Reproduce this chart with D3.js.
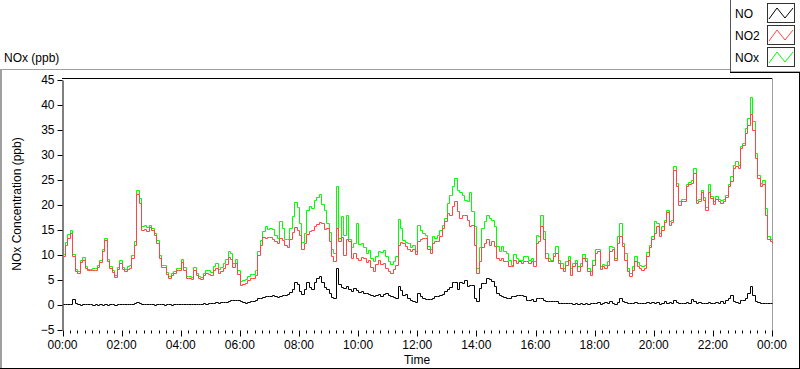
<!DOCTYPE html>
<html>

<head>
  <meta charset="UTF-8">
  <style>
      body {
        margin: 0;
        background: #fff;
      }
      svg {
        display: block;
        font-family: "Liberation Sans", Arial, sans-serif;
        font-size: 12px;
      }
  </style>
</head>

<body>
  <script src="https://d3js.org/d3.v7.min.js"></script>
  <script>
    // one sample every 5 minutes, 00:00 -> 24:00 (12 per hour + final point)
    var stepMinutes = 5;

    var no = [
      0.2, 0.3, 0.2, 0.2, 1.2, 0.4, 0.2, 0.1, 0.2, 0.3, 0.2, 0.2,
      0.1, 0.2, 0.1, 0.2, 0.1, 0.2, 0.1, 0.2, 0.2, 0.1, 0.2, 0.2,
      0.2, 0.3, 0.2, 0.2, 0.3, 0.4, 0.6, 0.5, 0.3, 0.2, 0.2, 0.2,
      0.2, 0.1, 0.2, 0.3, 0.2, 0.1, 0.2, 0.2, 0.1, 0.3, 0.2, 0.2,
      0.3, 0.2, 0.2, 0.3, 0.2, 0.2, 0.3, 0.2, 0.3, 0.4, 0.3, 0.4,
      0.5, 0.5, 0.6, 0.5, 0.6, 0.7, 0.6, 0.9, 1.1, 1.0, 1.0, 1.1,
      0.8, 0.6, 0.5, 0.7, 0.8, 0.8, 1.0, 1.4, 1.5, 1.7, 1.8, 1.9,
      1.9, 2.1, 1.8, 1.6, 1.8, 2.0, 2.1, 2.3, 2.6, 3.1, 4.6, 4.2,
      2.8, 2.3, 3.3, 4.6, 3.6, 3.2, 4.6, 5.4, 5.9, 4.6, 3.6, 3.2,
      2.5, 1.6, 1.4, 7.5, 4.3, 3.6, 3.4, 3.8, 3.1, 2.8, 3.4, 3.0,
      2.6, 2.8, 2.5, 2.5, 2.3, 2.0, 1.8, 2.0, 2.2, 1.8, 2.3, 2.5,
      2.0, 1.8, 1.6, 1.5, 3.8, 3.0, 2.0, 2.3, 1.4, 1.1, 0.8, 0.6,
      2.4, 1.8, 1.5, 1.3, 1.3, 1.3, 1.5, 1.8, 1.9, 2.1, 2.3, 2.8,
      3.3, 3.6, 4.7, 4.7, 3.1, 4.7, 4.5, 5.1, 3.8, 4.1, 4.1, 1.5,
      0.8, 3.5, 4.5, 4.5, 5.5, 5.3, 4.8, 3.8, 2.5, 2.0, 1.8, 1.6,
      1.5, 1.5, 1.8, 1.8, 2.1, 2.1, 2.1, 1.8, 1.1, 1.1, 1.3, 0.9,
      1.5, 1.5, 1.5, 1.1, 0.8, 0.8, 0.8, 0.8, 0.8, 0.5, 0.5, 0.5,
      0.5, 0.4, 0.5, 0.3, 0.4, 0.3, 0.5, 0.3, 0.4, 0.3, 0.4, 0.5,
      0.5, 0.6, 0.3, 0.5, 0.6, 0.5, 0.8, 0.5, 0.3, 0.6, 1.5, 0.8,
      0.6, 0.5, 0.5, 0.4, 0.6, 0.5, 0.4, 0.5, 0.5, 0.6, 0.5, 0.7,
      0.5, 0.6, 0.3, 0.5, 0.8, 0.5, 0.6, 0.5, 1.1, 0.6, 0.5, 0.5,
      0.5, 0.6, 0.5, 1.3, 0.8, 0.5, 0.6, 0.5, 0.5, 0.4, 0.6, 0.5,
      0.5, 0.6, 0.5, 0.8, 0.5, 1.1, 1.5, 2.1, 0.8, 0.6, 0.5, 1.1,
      1.0, 1.5, 2.5, 3.8, 2.0, 0.8, 0.6, 0.5, 0.5, 0.4, 0.5, 0.4,
      0.5
    ];

    var no2 = [
      9.8, 12.0, 13.5, 14.5, 9.8, 6.8, 6.5, 8.6, 9.0, 7.5, 7.0, 7.0,
      7.0, 7.1, 7.6, 8.6, 10.8, 13.0, 8.8, 7.4, 6.6, 5.6, 7.2, 8.4,
      7.2, 6.9, 7.3, 7.5, 9.5, 12.0, 22.3, 20.5, 15.0, 15.3, 14.8, 15.6,
      15.0, 14.0, 12.5, 9.5, 7.6, 7.6, 6.2, 5.4, 6.0, 6.4, 7.0, 7.0,
      8.6, 7.0, 5.4, 5.4, 5.3, 7.0, 6.0, 5.4, 5.2, 6.0, 6.4, 6.3,
      6.1, 7.0, 7.5, 6.4, 6.8, 7.5, 8.3, 9.6, 9.2, 7.6, 8.4, 6.3,
      4.0, 4.2, 4.5, 5.1, 5.5, 5.4, 6.0, 10.0, 12.0, 13.6, 13.5, 13.6,
      13.6, 13.2, 12.8, 12.3, 13.5, 13.0, 12.0, 11.5, 13.2, 14.6, 15.6, 15.0,
      14.0, 11.2, 12.3, 14.2, 14.8, 15.1, 15.8, 16.2, 16.6, 16.4, 15.3, 15.4,
      12.8, 9.8, 8.9, 15.5, 12.9, 13.6, 10.0, 13.3, 12.8, 9.4, 10.4, 9.5,
      9.1, 9.7, 9.5, 8.6, 9.1, 7.6, 6.8, 8.2, 9.1, 8.2, 8.4, 7.5,
      6.8, 6.5, 7.2, 8.1, 12.0, 12.6, 12.5, 11.8, 11.3, 10.8, 11.3, 10.2,
      12.8, 13.1, 13.5, 13.5, 11.2, 10.5, 12.5, 12.8, 12.8, 13.8, 15.5, 16.8,
      18.5, 18.1, 19.8, 20.8, 18.8, 17.5, 18.1, 18.1, 17.1, 15.8, 16.1, 12.1,
      6.5, 8.8, 11.5, 12.5, 13.1, 12.1, 12.8, 11.8, 9.5, 9.1, 9.5, 8.8,
      8.8, 7.8, 7.8, 9.1, 8.5, 8.8, 8.5, 8.8, 8.8, 8.5, 8.8, 7.8,
      12.5, 12.8, 15.8, 13.1, 9.5, 8.8, 8.8, 9.8, 10.5, 8.5, 7.5, 6.8,
      8.1, 9.1, 6.1, 7.8, 8.5, 6.8, 7.8, 9.5, 8.8, 6.8, 6.1, 8.1,
      10.5, 10.8, 7.3, 7.8, 7.5, 8.1, 10.8, 11.1, 9.1, 12.5, 13.8, 11.8,
      9.1, 6.8, 5.8, 7.1, 8.8, 7.9, 7.5, 7.1, 7.5, 9.9, 11.5, 13.1,
      14.5, 15.8, 13.8, 15.1, 16.6, 18.6, 16.1, 16.6, 27.1, 23.8, 20.1, 20.8,
      20.8, 23.8, 24.1, 24.5, 26.5, 20.5, 20.8, 22.6, 21.1, 19.1, 22.5, 21.5,
      20.3, 21.3, 20.8, 20.5, 20.8, 21.7, 23.8, 24.8, 27.5, 27.8, 27.5, 31.5,
      32.0, 34.5, 36.0, 38.2, 35.0, 29.5, 25.5, 23.8, 24.3, 18.0, 13.3, 12.8,
      12.5
    ];

    var nox = [
      10.2, 12.6, 14.2, 15.0, 10.2, 7.2, 6.9, 9.1, 9.6, 7.9, 7.3, 7.3,
      7.4, 7.5, 8.0, 9.1, 11.2, 13.5, 9.3, 7.9, 7.0, 6.0, 7.7, 9.0,
      7.6, 7.3, 7.8, 8.0, 10.0, 12.8, 23.0, 21.5, 15.8, 16.0, 15.6, 16.1,
      15.5, 14.5, 13.0, 10.0, 8.0, 8.0, 6.6, 5.8, 6.4, 6.9, 7.4, 7.5,
      9.2, 7.6, 5.8, 5.8, 5.7, 7.6, 6.5, 5.8, 5.6, 6.5, 7.0, 7.0,
      6.6, 7.8, 8.4, 7.2, 7.6, 8.5, 9.3, 10.8, 10.3, 8.5, 9.3, 7.0,
      4.8, 5.0, 5.2, 5.9, 6.3, 6.3, 7.0, 10.8, 13.0, 14.8, 15.8, 15.2,
      15.5, 15.3, 14.1, 13.5, 16.8, 15.5, 13.2, 13.3, 15.5, 17.8, 20.6, 19.6,
      16.5, 12.6, 14.5, 19.0, 19.8, 19.5, 21.0, 21.6, 22.2, 20.2, 19.0, 16.5,
      14.6, 11.2, 10.3, 23.8, 13.5, 17.8, 14.1, 18.0, 13.2, 11.7, 12.5, 16.5,
      12.2, 12.3, 11.6, 10.4, 11.0, 9.4, 8.8, 9.8, 10.8, 10.6, 10.9, 9.9,
      8.8, 8.2, 8.8, 9.8, 17.2, 15.5, 13.0, 12.6, 12.4, 11.6, 12.0, 10.8,
      16.1, 15.1, 14.5, 14.1, 11.8, 11.2, 13.8, 13.5, 14.1, 15.1, 16.1, 17.5,
      20.5, 22.1, 23.8, 25.5, 23.1, 22.5, 22.1, 21.1, 20.8, 22.5, 18.8, 15.8,
      7.5, 11.5, 15.5, 16.8, 18.1, 17.5, 17.1, 15.8, 11.8, 10.8, 11.8, 10.8,
      10.5, 9.1, 8.1, 10.1, 9.5, 9.1, 9.1, 9.8, 9.8, 9.1, 9.5, 8.8,
      14.1, 13.8, 18.1, 14.8, 10.5, 9.5, 9.1, 10.5, 11.8, 9.1, 8.5, 7.5,
      8.8, 9.8, 7.5, 8.5, 9.1, 7.8, 8.5, 10.1, 9.5, 7.5, 6.8, 9.1,
      11.1, 11.1, 7.8, 8.3, 8.1, 8.8, 11.8, 11.5, 9.5, 13.8, 16.5, 12.5,
      10.5, 7.5, 6.5, 7.8, 9.8, 8.6, 8.1, 7.8, 8.1, 10.6, 12.1, 13.8,
      16.8, 16.5, 14.5, 15.8, 17.1, 19.1, 16.8, 17.1, 27.8, 24.5, 20.8, 21.3,
      21.3, 24.3, 24.7, 25.1, 27.5, 21.0, 21.3, 23.1, 21.7, 19.7, 24.1, 21.9,
      20.8, 21.8, 21.3, 21.0, 21.3, 22.1, 24.3, 25.8, 28.1, 28.8, 28.1, 31.9,
      32.5, 35.5, 37.5, 41.5, 36.8, 30.5, 26.0, 24.5, 25.0, 19.5, 13.8, 13.3,
      13.0
    ];

    var yTicks = [-5, 0, 5, 10, 15, 20, 25, 30, 35, 40, 45];
    var xTickLabels = ["00:00", "02:00", "04:00", "06:00", "08:00", "10:00", "12:00",
                       "14:00", "16:00", "18:00", "20:00", "22:00", "00:00"];
    var legendNames = ["NO", "NO2", "NOx"];
    var legendColors = ["#000000", "#ff4545", "#00ff00"];

    var W = 800, H = 369;
    var plot = {left: 62, right: 772, top: 78, bottom: 330};

    var svg = d3.select("body").append("svg")
        .attr("width", W)
        .attr("height", H);

    var x = d3.scaleLinear().domain([0, 1440]).range([plot.left + 0.5, plot.right]);
    var y = d3.scaleLinear().domain([-5, 45]).range([plot.bottom, plot.top + 2]);

    // outer frame
    svg.append("line").attr("x1", 0).attr("x2", 730).attr("y1", 69.5).attr("y2", 69.5)
        .attr("stroke", "#a0a0a0");
    svg.append("rect").attr("x", 0).attr("y", 70).attr("width", 2).attr("height", H - 70)
        .attr("fill", "#a0a0a0");
    svg.append("line").attr("x1", 0).attr("x2", W).attr("y1", H - 0.5).attr("y2", H - 0.5)
        .attr("stroke", "#000");
    svg.append("line").attr("x1", W - 0.5).attr("x2", W - 0.5).attr("y1", 72).attr("y2", H)
        .attr("stroke", "#000");

    svg.append("text").attr("x", 4).attr("y", 62).text("NOx (ppb)");

    // plot area borders
    svg.append("line").attr("x1", plot.left).attr("x2", plot.right).attr("y1", plot.top + 0.5).attr("y2", plot.top + 0.5)
        .attr("stroke", "#000");
    svg.append("line").attr("x1", plot.right + 0.5).attr("x2", plot.right + 0.5).attr("y1", plot.top).attr("y2", plot.bottom + 1)
        .attr("stroke", "#a0a0a0");

    // y axis
    var yAxis = d3.axisLeft(y).tickValues(yTicks).tickSize(5).tickPadding(3).tickSizeOuter(0);
    var gy = svg.append("g").attr("transform", "translate(" + (plot.left + 0.5) + ",0)").call(yAxis);
    gy.select(".domain").attr("stroke", "#000");
    gy.selectAll("text").attr("font-family", "Liberation Sans, Arial, sans-serif").attr("font-size", 12).attr("fill", "#000");

    // x axis: minor every 15 min, labels every 2 h
    var minorTicks = d3.range(0, 1441, 15);
    var majorTicks = d3.range(0, 1441, 120);
    var gx = svg.append("g").attr("transform", "translate(0," + (plot.bottom + 0.5) + ")");
    gx.selectAll("line.minor").data(minorTicks).enter().append("line")
        .attr("x1", function(d) { return Math.round(x(d)) + 0.5; })
        .attr("x2", function(d) { return Math.round(x(d)) + 0.5; })
        .attr("y1", 0)
        .attr("y2", function(d) { return d % 120 === 0 ? 6 : 3; })
        .attr("stroke", "#000");
    gx.selectAll("text").data(majorTicks).enter().append("text")
        .attr("x", function(d) { return x(d); })
        .attr("y", 18)
        .attr("text-anchor", "middle")
        .text(function(d, i) { return xTickLabels[i]; });

    svg.append("text").attr("x", (plot.left + plot.right) / 2).attr("y", 364)
        .attr("text-anchor", "middle").text("Time");
    svg.append("text")
        .attr("transform", "translate(21," + ((plot.top + plot.bottom) / 2) + ") rotate(-90)")
        .attr("text-anchor", "middle").text("NOx Concentration (ppb)");

    // lines, NOx underneath, NO on top; snapped to pixel centres so steps stay sharp
    var line = d3.line()
        .x(function(d, i) { return Math.round(x(i * stepMinutes)) + 0.5; })
        .y(function(d) { return Math.round(y(d)) + 0.5; })
        .curve(d3.curveStepAfter);

    var g = svg.append("g");
    [[nox, legendColors[2]], [no2, legendColors[1]], [no, legendColors[0]]].forEach(function(s) {
      g.append("path")
        .datum(s[0])
        .attr("d", line)
        .attr("fill", "none")
        .attr("stroke", s[1])
        .attr("stroke-width", 1);
    });

    // legend box
    var lg = svg.append("g");
    lg.append("rect").attr("x", 730.5).attr("y", -1).attr("width", 70).attr("height", 73)
        .attr("fill", "#fff").attr("stroke", "#555");
    lg.append("line").attr("x1", 730).attr("x2", 800).attr("y1", 72.5).attr("y2", 72.5).attr("stroke", "#000");
    var zig = d3.line();
    legendNames.forEach(function(name, i) {
      var top = 3 + i * 22;
      lg.append("text").attr("x", 735).attr("y", top + 15).text(name);
      lg.append("rect").attr("x", 767.5).attr("y", top + 0.5).attr("width", 27).attr("height", 19)
          .attr("fill", "#fff").attr("stroke", "#333");
      lg.append("path")
          .attr("d", zig([[769, top + 16], [777, top + 5], [785, top + 15], [793, top + 5]]))
          .attr("fill", "none").attr("stroke", legendColors[i]);
    });
  </script>
</body>

</html>
